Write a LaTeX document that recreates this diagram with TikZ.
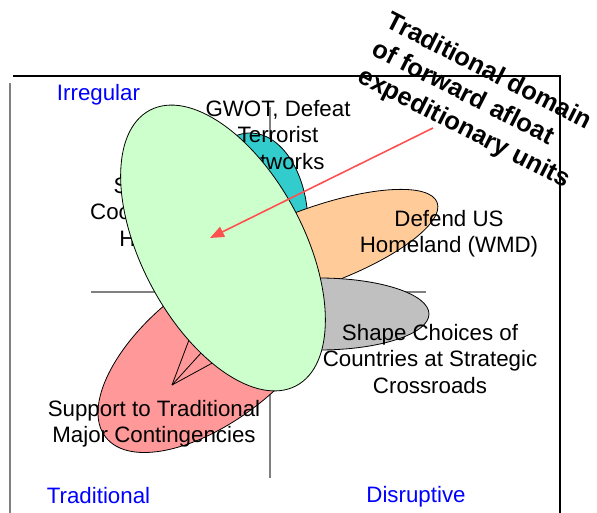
\documentclass[tikz,border=0pt]{standalone}
\usepackage{fontspec}
\setmainfont{Liberation Sans}
\usepackage{tikz}
\usetikzlibrary{arrows.meta}

\definecolor{petalgreen}{HTML}{CCFFCC}
\definecolor{petalteal}{HTML}{33CCCC}
\definecolor{petalorange}{HTML}{FFCC99}
\definecolor{petalgrey}{HTML}{C0C0C0}
\definecolor{petalred}{HTML}{FF9999}
\definecolor{arrowred}{HTML}{FF5050}
\definecolor{quadblue}{HTML}{0000FF}
\definecolor{axisgrey}{HTML}{808080}

\tikzset{
  petal/.style={draw=black, line width=0.8pt},
  axisline/.style={draw=axisgrey, line width=1.3pt},
  missionlbl/.style={font=\fontsize{22.3}{26.5}\selectfont, align=center, inner sep=0pt, anchor=north},
  quadlbl/.style={font=\fontsize{22.3}{26.5}\selectfont, text=quadblue, inner sep=0pt, anchor=base}
}

\begin{document}
\begin{tikzpicture}[x=1pt,y=-1pt]
\useasboundingbox (0,0) rectangle (597,513);

% frame and quadrant axes
\draw[axisline, line width=1.8pt] (10,83) -- (10,513);
\draw[line width=1.3pt] (13,76) -- (561,76);
\draw[line width=1.3pt] (560,77) -- (560,513);
\draw[axisline] (270,107) -- (270,478);
\draw[axisline] (91,292) -- (426,292);

% petals
\coordinate (redc) at (216,351);
\coordinate (tealc) at (250,225);
\coordinate (orangec) at (315,247);
\coordinate (greyc) at (319,314);
\coordinate (greenc) at (223,248);

\filldraw[petal, fill=petalred, rotate around={38:(redc)}] (redc) ellipse [x radius=140, y radius=68];

\coordinate (calloutpt) at (172,385);
\coordinate (callouta) at (195,324);
\coordinate (calloutb) at (211,342);
\coordinate (calloutc) at (227,355);
\foreach \c in {callouta,calloutb,calloutc}
  \draw[line width=0.8pt] (calloutpt) -- (\c);

\filldraw[petal, fill=petalteal] (tealc) ellipse [x radius=58, y radius=92];
\filldraw[petal, fill=petalorange, rotate around={20:(orangec)}] (orangec) ellipse [x radius=130, y radius=39];
\filldraw[petal, fill=petalgrey] (greyc) ellipse [x radius=110, y radius=36];

\node[missionlbl] (gwot) at (278,100) {GWOT, Defeat\\Terrorist\\Networks};
\node[missionlbl] (seccoop) at (154,177) {Security\\Cooperation,\\HA/DR};

\filldraw[petal, fill=petalgreen, rotate around={-62:(greenc)}] (greenc) ellipse [x radius=156, y radius=81];

% forward afloat arrow
\coordinate (arrowtail) at (433,128);
\coordinate (arrowtip) at (210,238);
\draw[arrowred, line width=1.6pt, -{Triangle[length=14pt,width=11pt]}] (arrowtail) -- (arrowtip);

\node[missionlbl] (defend) at (449,210) {Defend US\\Homeland (WMD)};
\node[missionlbl] (shape) at (430,324) {Shape Choices of\\Countries at Strategic\\Crossroads};
\node[missionlbl] (support) at (154,400) {Support to Traditional\\Major Contingencies};

\node[quadlbl] (irregular) at (98.5,101) {Irregular};
\node[quadlbl] (traditional) at (98.5,503) {Traditional};
\node[quadlbl] (disruptive) at (416,502) {Disruptive};

\node[font=\bfseries\fontsize{25.5}{31}\selectfont, align=left, rotate=-27, anchor=north west, inner sep=0pt] (domain) at (393,10) {Traditional domain\\of forward afloat\\expeditionary units};

\end{tikzpicture}
\end{document}
